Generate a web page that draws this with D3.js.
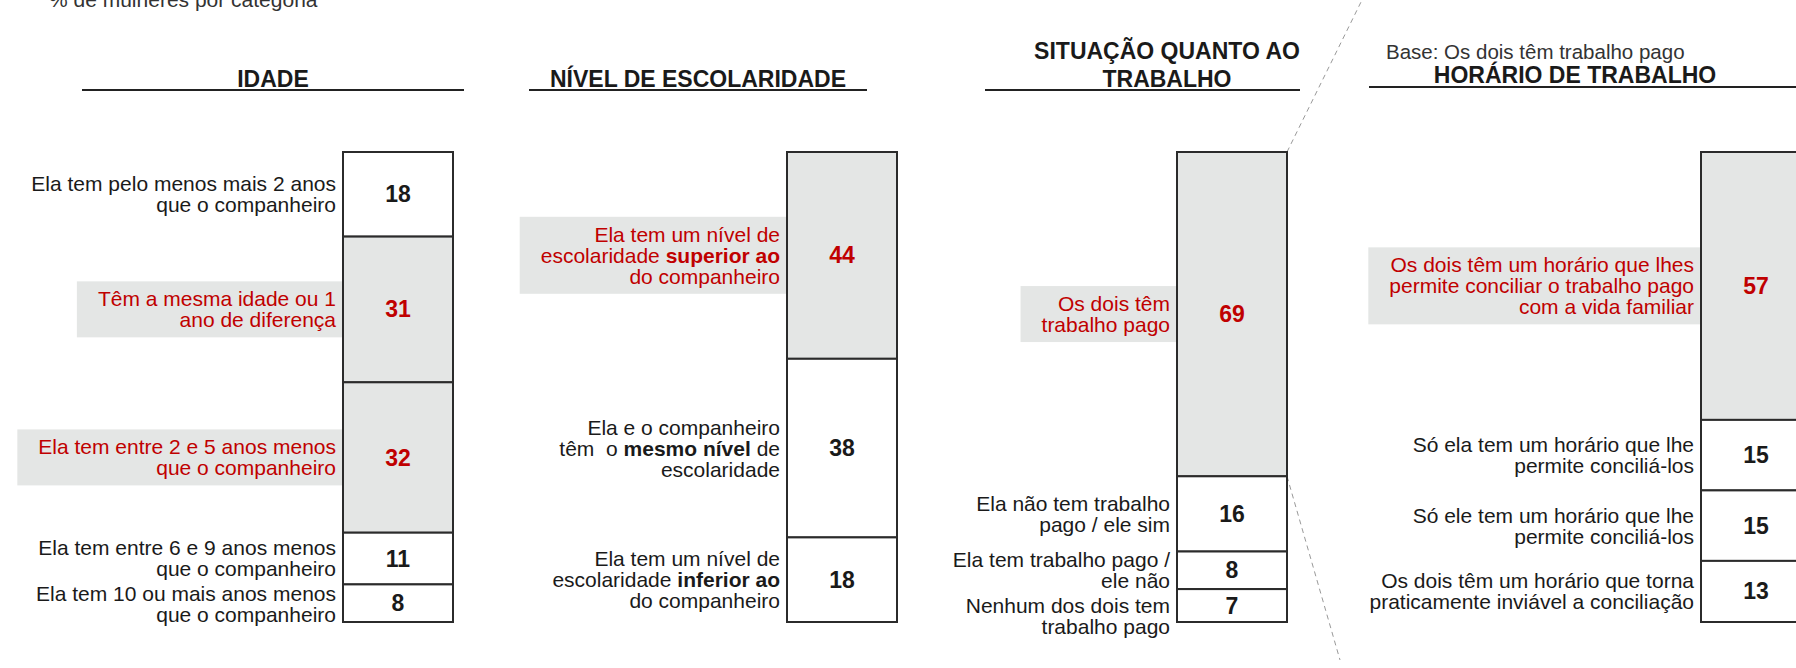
<!DOCTYPE html>
<html>
<head>
<meta charset="utf-8">
<script src="https://cdn.jsdelivr.net/npm/d3@7"></script>
<style>
  body { margin: 0; background: #fff; }
  svg { display: block; font-family: "Liberation Sans", Arial, sans-serif; }
  text { white-space: pre; }
</style>
</head>
<body>
<div id="graphic"></div>
<script>
// panels, left to right
const panels = ["idade", "escolaridade", "trabalho", "horario"];
const panelTitles = [["IDADE"], ["NÍVEL DE ESCOLARIDADE"], ["SITUAÇÃO QUANTO AO", "TRABALHO"], ["HORÁRIO DE TRABALHO"]];

// categories (lines of each label, **bold** parts), values and highlighted flag
const idadeLabels = [
    ["Ela tem pelo menos mais 2 anos", "que o companheiro"],
    ["Têm a mesma idade ou 1", "ano de diferença"],
    ["Ela tem entre 2 e 5 anos menos", "que o companheiro"],
    ["Ela tem entre 6 e 9 anos menos", "que o companheiro"],
    ["Ela tem 10 ou mais anos menos", "que o companheiro"]
];
const idadeValues = [18, 31, 32, 11, 8];
const idadeHighlight = [false, true, true, false, false];

const escolaridadeLabels = [
    ["Ela tem um nível de", "escolaridade **superior ao**", "do companheiro"],
    ["Ela e o companheiro", "têm  o **mesmo nível** de", "escolaridade"],
    ["Ela tem um nível de", "escolaridade **inferior ao**", "do companheiro"]
];
const escolaridadeValues = [44, 38, 18];
const escolaridadeHighlight = [true, false, false];

const trabalhoLabels = [
    ["Os dois têm", "trabalho pago"],
    ["Ela não tem trabalho", "pago / ele sim"],
    ["Ela tem trabalho pago /", "ele não"],
    ["Nenhum dos dois tem", "trabalho pago"]
];
const trabalhoValues = [69, 16, 8, 7];
const trabalhoHighlight = [true, false, false, false];

const horarioLabels = [
    ["Os dois têm um horário que lhes", "permite conciliar o trabalho pago", "com a vida familiar"],
    ["Só ela tem um horário que lhe", "permite conciliá-los"],
    ["Só ele tem um horário que lhe", "permite conciliá-los"],
    ["Os dois têm um horário que torna", "praticamente inviável a conciliação"]
];
const horarioValues = [57, 15, 15, 13];
const horarioHighlight = [true, false, false, false];

const subtitle = "% de mulheres por categoria";
const baseNote = "Base: Os dois têm trabalho pago";

const labelSets = [idadeLabels, escolaridadeLabels, trabalhoLabels, horarioLabels];
const valueSets = [idadeValues, escolaridadeValues, trabalhoValues, horarioValues];
const highlightSets = [idadeHighlight, escolaridadeHighlight, trabalhoHighlight, horarioHighlight];

// layout
const width = 1796, height = 668;
const barWidth = 110;
const red = "#c00000", grey = "#e4e6e5", ink = "#1a1a1a";
const lineH = 21;

const svg = d3.select("#graphic")
    .append("svg")
    .attr("width", width)
    .attr("height", height);

const y = d3.scaleLinear().domain([0, 100]).range([152, 622]);
const x = d3.scaleOrdinal().domain(panels).range([343, 787, 1177, 1701]);

// title blocks: centre, baseline of last line, underline extent
const titleLayout = [
    { cx: 273, base: 87, x1: 82, x2: 464, uy: 90 },
    { cx: 698, base: 87, x1: 529, x2: 867, uy: 90 },
    { cx: 1167, base: 87, x1: 985, x2: 1300, uy: 90 },
    { cx: 1575, base: 83, x1: 1369, x2: 1800, uy: 87 }
];

svg.append("text")
    .attr("x", 49).attr("y", 7)
    .attr("font-size", 21)
    .attr("fill", "#333")
    .text(subtitle);

svg.append("text")
    .attr("x", 1386).attr("y", 59)
    .attr("font-size", 20.5)
    .attr("fill", "#333")
    .text(baseNote);

// connector lines from the "Os dois têm trabalho pago" segment
const connX = x("trabalho") + barWidth;
svg.append("line")
    .attr("x1", connX).attr("y1", y(0))
    .attr("x2", 1362).attr("y2", 0)
    .attr("stroke", "#999").attr("stroke-width", 1).attr("stroke-dasharray", "5,4");
svg.append("line")
    .attr("x1", connX).attr("y1", y(trabalhoValues[0]))
    .attr("x2", 1340).attr("y2", 660)
    .attr("stroke", "#999").attr("stroke-width", 1).attr("stroke-dasharray", "5,4");

function addLine(sel, str) {
    // split on **...** for bold runs
    str.split(/(\*\*[^*]+\*\*)/).filter(s => s.length).forEach(part => {
        const bold = part.startsWith("**");
        sel.append("tspan")
            .attr("font-weight", bold ? "bold" : null)
            .text(bold ? part.slice(2, -2) : part);
    });
}

panels.forEach((p, pi) => {
    const g = svg.append("g");
    const t = titleLayout[pi];
    const lines = panelTitles[pi];

    lines.forEach((l, li) => {
        g.append("text")
            .attr("x", t.cx)
            .attr("y", t.base - (lines.length - 1 - li) * 28)
            .attr("text-anchor", "middle")
            .attr("font-size", 23)
            .attr("font-weight", "bold")
            .attr("fill", ink)
            .text(l);
    });
    g.append("line")
        .attr("x1", t.x1).attr("x2", t.x2)
        .attr("y1", t.uy).attr("y2", t.uy)
        .attr("stroke", "#222").attr("stroke-width", 2);

    const values = valueSets[pi];
    const ends = d3.cumsum(values);
    const data = values.map((v, i) => ({
        value: v,
        start: ends[i] - v,
        end: ends[i],
        label: labelSets[pi][i],
        hl: highlightSets[pi][i]
    }));

    const bx = x(p);
    const boxLayer = g.append("g");

    g.selectAll("rect.seg")
        .data(data)
        .join("rect")
        .attr("class", "seg")
        .attr("x", bx)
        .attr("y", d => y(d.start))
        .attr("width", barWidth)
        .attr("height", d => y(d.end) - y(d.start))
        .attr("fill", d => d.hl ? grey : "#fff")
        .attr("stroke", "#2b2b2b")
        .attr("stroke-width", 2);

    g.selectAll("text.num")
        .data(data)
        .join("text")
        .attr("class", "num")
        .attr("x", bx + barWidth / 2)
        .attr("y", d => (y(d.start) + y(d.end)) / 2 + 8)
        .attr("text-anchor", "middle")
        .attr("font-size", 23)
        .attr("font-weight", "bold")
        .attr("fill", d => d.hl ? red : ink)
        .text(d => d.value);

    // category labels, right aligned to the bar, pushed down if they would collide
    let prevLast = -Infinity;
    data.forEach(d => {
        const n = d.label.length;
        const mid = (y(d.start) + y(d.end)) / 2;
        let first = mid - (n - 1) / 2 * lineH + 7.4;
        if (first < prevLast + 25) first = prevLast + 25;
        let maxW = 0;
        d.label.forEach((l, li) => {
            const tx = g.append("text")
                .attr("x", bx - 7)
                .attr("y", first + li * lineH)
                .attr("text-anchor", "end")
                .attr("font-size", 21)
                .attr("fill", d.hl ? red : ink);
            addLine(tx, l);
            maxW = Math.max(maxW, tx.node().getComputedTextLength());
        });
        const last = first + (n - 1) * lineH;
        if (d.hl) {
            boxLayer.append("rect")
                .attr("x", bx - 7 - maxW - 21)
                .attr("y", first - 25)
                .attr("width", maxW + 28)
                .attr("height", last - first + 35)
                .attr("fill", grey);
        }
        prevLast = last;
    });
});
</script>
</body>
</html>
